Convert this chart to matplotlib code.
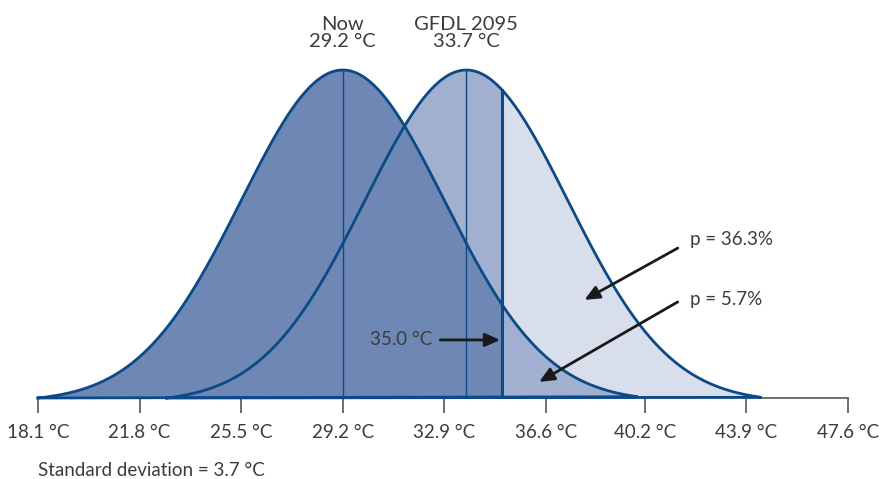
import numpy as np
import matplotlib.pyplot as plt

# distribution parameters
now_mean = 29.2
gfdl_mean = 33.7
sd = 3.7
threshold = 35.0
tick_vals = [18.1, 21.8, 25.5, 29.2, 32.9, 36.6, 40.2, 43.9, 47.6]
tick_labels = ["18.1 °C", "21.8 °C", "25.5 °C", "29.2 °C", "32.9 °C",
               "36.6 °C", "40.2 °C", "43.9 °C", "47.6 °C"]
p_labels = ["p = 36.3%", "p = 5.7%"]

dark = "#6e87b5"
mid = "#a1afd0"
light = "#d9deec"
edge = "#0b4a87"
txt = "#3c3c3c"

plt.rcParams['font.family'] = ['Lato', 'DejaVu Sans']

def bell(x, m):
    return np.exp(-0.5 * ((x - m) / sd) ** 2)

def tail_to_zero(y):
    # pull the tails down onto the baseline, keep the peak at 1
    y = y - y.min()
    return y / y.max()

fig = plt.figure(figsize=(8.86, 4.79), dpi=100)
ax = fig.add_axes([38 / 886, 81 / 479, 810 / 886, 328 / 479])
ax.set_xlim(18.1, 47.6)
ax.set_ylim(0, 1)

xn = np.linspace(now_mean - 3 * sd, now_mean + 2.9 * sd, 600)
xg = np.linspace(gfdl_mean - 2.95 * sd, gfdl_mean + 2.9 * sd, 600)
yn = tail_to_zero(bell(xn, now_mean))
yg = tail_to_zero(bell(xg, gfdl_mean))

# future distribution
ax.fill_between(xg, 0, yg, where=xg <= threshold, color=mid, lw=0, zorder=1)
ax.fill_between(xg, 0, yg, where=xg >= threshold, color=light, lw=0, zorder=1)
# current distribution on top
ax.fill_between(xn, 0, yn, where=xn <= threshold, color=dark, lw=0, zorder=2)
ax.fill_between(xn, 0, yn, where=xn >= threshold, color=mid, lw=0, zorder=2)

ax.plot(np.r_[xn, xn[0]], np.r_[yn, 0], color=edge, lw=2, zorder=4, clip_on=False)
ax.plot(np.r_[xg, xg[0]], np.r_[yg, 0], color=edge, lw=2, zorder=4, clip_on=False)

ax.plot([now_mean, now_mean], [0, 1], color=edge, lw=1, zorder=3)
ax.plot([gfdl_mean, gfdl_mean], [0, 1], color=edge, lw=1, zorder=3)
ax.plot([threshold, threshold], [0, np.interp(threshold, xg, yg)], color=edge, lw=2.2, zorder=3)

for s in ["top", "right", "left"]:
    ax.spines[s].set_visible(False)
ax.spines["bottom"].set_color("#555555")
ax.spines["bottom"].set_linewidth(1.2)
ax.spines["bottom"].set_zorder(0)
ax.set_yticks([])
ax.set_xticks(tick_vals)
ax.set_xticklabels(tick_labels, fontsize=13.5, color=txt)
ax.tick_params(axis="x", direction="out", length=11, width=1.2, color="#555555", pad=8)

ax.text(now_mean, 1.06, "Now\n29.2 °C", ha="center", va="bottom", fontsize=14.5,
        color=txt, linespacing=1.0, clip_on=False)
ax.text(gfdl_mean, 1.06, "GFDL 2095\n33.7 °C", ha="center", va="bottom", fontsize=14.5,
        color=txt, linespacing=1.0, clip_on=False)

arr = dict(arrowstyle="-|>,head_length=0.9,head_width=0.4", color="#1a1a1a", lw=2,
           shrinkA=0, shrinkB=0)
ax.annotate("", xy=(34.93, 0.177), xytext=(32.75, 0.177), arrowprops=arr, zorder=5)
ax.text(32.45, 0.177, "35.0 °C", ha="right", va="center", fontsize=13.5, color=txt, zorder=5)
ax.annotate("", xy=(38.0, 0.299), xytext=(41.4, 0.457), arrowprops=arr, zorder=5)
ax.text(41.85, 0.482, p_labels[0], ha="left", va="center", fontsize=13.5, color=txt)
ax.annotate("", xy=(36.35, 0.049), xytext=(41.4, 0.293), arrowprops=arr, zorder=5)
ax.text(41.85, 0.299, p_labels[1], ha="left", va="center", fontsize=13.5, color=txt)

fig.text(38 / 886, 1 - 470 / 479, "Standard deviation = 3.7 °C", ha="left", va="center",
         fontsize=13.5, color=txt)

fig.savefig("out.png", dpi=100)
